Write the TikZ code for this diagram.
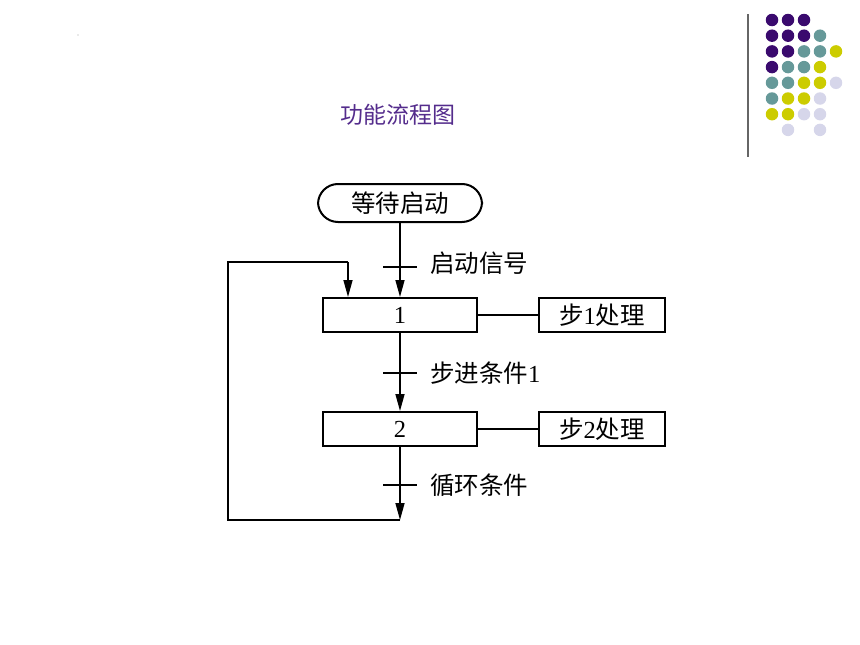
\documentclass[tikz,border=0pt]{standalone}
\usepackage{fontspec}
\setmainfont{Liberation Serif}
\newfontfamily\cjk{Noto Sans CJK SC}
\usetikzlibrary{arrows.meta}
\definecolor{dp}{RGB}{58,10,110}
\definecolor{dt}{RGB}{102,153,153}
\definecolor{dy}{RGB}{204,204,0}
\definecolor{dl}{RGB}{214,214,234}
\definecolor{ttl}{RGB}{84,44,140}
\tikzset{
  boxstyle/.style={draw,line width=2pt,inner sep=0pt,font=\fontsize{24.5}{28}\selectfont},
  conn/.style={line width=1.5pt},
  arr/.style={conn,-{Triangle[length=17pt,width=9pt]}},
  lbl/.style={anchor=west,inner sep=0pt,font=\fontsize{24.5}{28}\selectfont},
  dotc/.style={circle,inner sep=0pt,minimum size=12.5pt}
}
\begin{document}
\begin{tikzpicture}[x=1pt,y=-1pt]
\useasboundingbox (0,0) rectangle (860,645);
% decoration
\fill[gray!70] (78,35) circle (0.7);
\draw[line width=1.6pt,gray!80!black] (748,14) -- (748,157);
\foreach \c/\r/\col in {0/0/dp,1/0/dp,2/0/dp,
  0/1/dp,1/1/dp,2/1/dp,3/1/dt,
  0/2/dp,1/2/dp,2/2/dt,3/2/dt,4/2/dy,
  0/3/dp,1/3/dt,2/3/dt,3/3/dy,
  0/4/dt,1/4/dt,2/4/dy,3/4/dy,4/4/dl,
  0/5/dt,1/5/dy,2/5/dy,3/5/dl,
  0/6/dy,1/6/dy,2/6/dl,3/6/dl,
  1/7/dl,3/7/dl}
  \node[dotc,fill=\col] (d\c\r) at (772+16*\c,20+15.7*\r) {};
% title
\node[text=ttl,font=\fontsize{23}{26}\selectfont\cjk] (title) at (398,115) {功能流程图};
% flowchart
\node[boxstyle,rounded corners=20pt,minimum width=164pt,minimum height=38pt] (wait) at (400,203) {\cjk 等待启动};
\node[boxstyle,minimum width=154pt,minimum height=34pt] (s1) at (400,315) {1};
\node[boxstyle,minimum width=126pt,minimum height=34pt] (p1) at (602,315) {{\cjk 步}1{\cjk 处理}};
\node[boxstyle,minimum width=154pt,minimum height=34pt] (s2) at (400,429) {2};
\node[boxstyle,minimum width=126pt,minimum height=34pt] (p2) at (602,429) {{\cjk 步}2{\cjk 处理}};
\coordinate (bot) at (400,520);
\coordinate (bl) at (228,520);
\coordinate (tl) at (228,262);
\coordinate (tr) at (348,262);
\draw[arr] (wait.south) -- (s1.north);
\draw[arr] (s1.south) -- (s2.north);
\draw[arr] (s2.south) -- (bot);
\draw[conn] (bot) -- (bl) -- (tl) -- (tr);
\draw[arr] (tr) -- (tr |- s1.north);
\draw[conn] (s1.east) -- (p1.west);
\draw[conn] (s2.east) -- (p2.west);
% ticks
\coordinate (t1a) at (383,267); \coordinate (t1b) at (417,267);
\coordinate (t2a) at (383,373); \coordinate (t2b) at (417,373);
\coordinate (t3a) at (383,485); \coordinate (t3b) at (417,485);
\draw[conn] (t1a) -- (t1b);
\draw[conn] (t2a) -- (t2b);
\draw[conn] (t3a) -- (t3b);
\node[lbl] (l1) at (430,263) {\cjk 启动信号};
\node[lbl] (l2) at (430,373) {{\cjk 步进条件}1};
\node[lbl] (l3) at (430,485) {\cjk 循环条件};
\end{tikzpicture}
\end{document}
